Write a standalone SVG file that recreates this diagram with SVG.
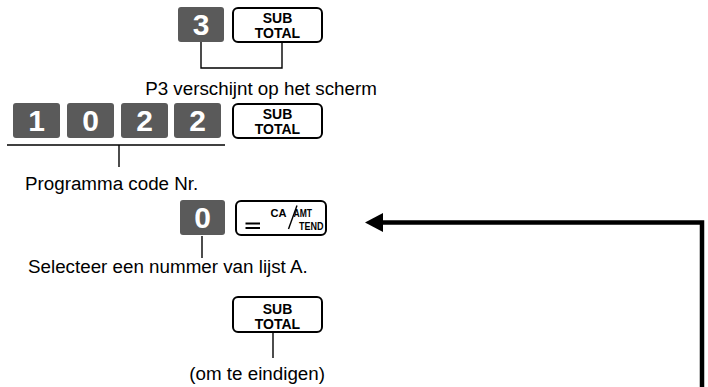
<svg xmlns="http://www.w3.org/2000/svg" width="708" height="387" viewBox="0 0 708 387">
<defs>
<style>
.dk{fill:#5a5a5a}
.dg{font-family:"Liberation Sans",Arial,Helvetica,sans-serif;font-weight:bold;font-size:30px;fill:#fff;text-anchor:middle}
.kb{fill:#fff;stroke:#000;stroke-width:2}
.kt{font-family:"Liberation Sans",Arial,Helvetica,sans-serif;font-weight:bold;font-size:14px;fill:#000;text-anchor:middle}
.sm{font-family:"Liberation Sans",Arial,Helvetica,sans-serif;font-weight:bold;font-size:10.5px;fill:#000}
.lb{font-family:"Liberation Sans",Arial,Helvetica,sans-serif;font-size:18.8px;fill:#000}
.ln{fill:none;stroke:#000;stroke-width:1.4}
</style>
<marker id="ah" markerUnits="userSpaceOnUse" markerWidth="18" markerHeight="19" viewBox="0 0 18 19" refX="0" refY="9.5" orient="auto">
<path d="M0,0 L18,9.5 L0,19 Z" fill="#000"/>
</marker>
</defs>

<g id="key-3">
<rect class="dk" x="178" y="7" width="46" height="35" rx="3"/>
<text class="dg" x="201" y="35">3</text>
</g>
<g id="key-subtotal-1">
<rect class="kb" x="233" y="8" width="89" height="34" rx="5"/>
<text class="kt" x="277.5" y="22.5">SUB</text>
<text class="kt" x="277.5" y="37.5">TOTAL</text>
</g>
<g id="label-p3">
<text class="lb" x="261" y="95" text-anchor="middle">P3 verschijnt op het scherm</text>
</g>

<g id="key-1">
<rect class="dk" x="13" y="103" width="47" height="35" rx="3"/>
<text class="dg" x="36.5" y="131">1</text>
</g>
<g id="key-0a">
<rect class="dk" x="67" y="103" width="47" height="35" rx="3"/>
<text class="dg" x="90.5" y="131">0</text>
</g>
<g id="key-2a">
<rect class="dk" x="121" y="103" width="47" height="35" rx="3"/>
<text class="dg" x="144.5" y="131">2</text>
</g>
<g id="key-2b">
<rect class="dk" x="174" y="103" width="47" height="35" rx="3"/>
<text class="dg" x="197.5" y="131">2</text>
</g>
<g id="key-subtotal-2">
<rect class="kb" x="233" y="104" width="89" height="34" rx="5"/>
<text class="kt" x="277.5" y="118.5">SUB</text>
<text class="kt" x="277.5" y="133.5">TOTAL</text>
</g>
<g id="label-code">
<text class="lb" x="25" y="190">Programma code Nr.</text>
</g>

<g id="key-0b">
<rect class="dk" x="180" y="200" width="45" height="35" rx="3"/>
<text class="dg" x="202.5" y="228">0</text>
</g>
<g id="key-ca">
<rect class="kb" x="236" y="201" width="90" height="34" rx="5"/>
<path d="M245.5,223.5 H260 M245.5,228 H260" stroke="#000" stroke-width="2" fill="none"/>
<text class="sm" x="270.5" y="217" textLength="16" lengthAdjust="spacingAndGlyphs">CA</text>
<path d="M288.5,229 L297,205.5" stroke="#000" stroke-width="1.4" fill="none"/>
<text class="sm" x="293.5" y="216.5" textLength="18.5" lengthAdjust="spacingAndGlyphs">AMT</text>
<text class="sm" x="299" y="229.5" textLength="24.5" lengthAdjust="spacingAndGlyphs">TEND</text>
</g>
<g id="label-select">
<text class="lb" x="28" y="273">Selecteer een nummer van lijst A.</text>
</g>

<g id="key-subtotal-3">
<rect class="kb" x="233" y="297" width="89" height="35" rx="5"/>
<text class="kt" x="277.5" y="314">SUB</text>
<text class="kt" x="277.5" y="329">TOTAL</text>
</g>
<g id="label-end">
<text class="lb" x="325" y="380" text-anchor="end">(om te eindigen)</text>
</g>

<g id="connectors">
<path class="ln" d="M201,42 V68 H282 V43"/>
<path class="ln" d="M7,145 H225"/>
<path class="ln" d="M119,145 V167"/>
<path class="ln" d="M202,236 V258"/>
<path class="ln" d="M273,333 V358"/>
<path d="M702,387 V222.5 H383" fill="none" stroke="#000" stroke-width="4.5" stroke-linejoin="miter" marker-end="url(#ah)"/>
</g>
</svg>
